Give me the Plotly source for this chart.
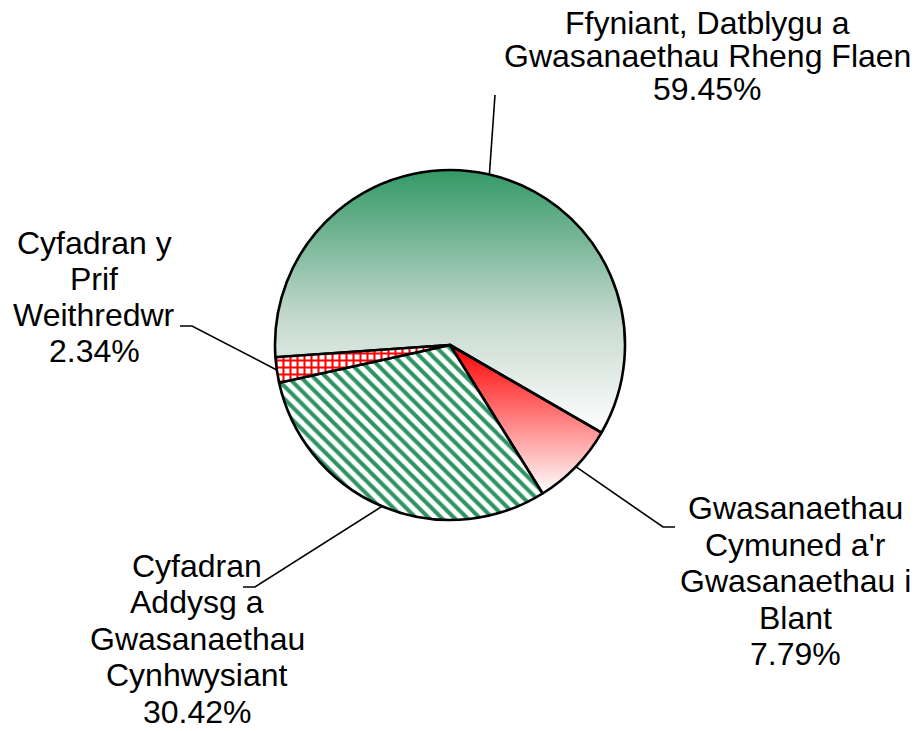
import numpy as np
import plotly.graph_objects as go

W, H = 915, 731

# ---- data ----------------------------------------------------------------
categories = [
    "Ffyniant, Datblygu a Gwasanaethau Rheng Flaen",
    "Gwasanaethau Cymuned a'r Gwasanaethau i Blant",
    "Cyfadran Addysg a Gwasanaethau Cynhwysiant",
    "Cyfadran y Prif Weithredwr",
]
shares = [59.45, 7.79, 30.42, 2.34]
# how each category name wraps in the picture
label_lines = [
    ["Ffyniant, Datblygu a", "Gwasanaethau Rheng Flaen"],
    ["Gwasanaethau", "Cymuned a'r", "Gwasanaethau i", "Blant"],
    ["Cyfadran", "Addysg a", "Gwasanaethau", "Cynhwysiant"],
    ["Cyfadran y", "Prif", "Weithredwr"],
]

# ---- layout (pixels, y down) ---------------------------------------------
CX, CY, R = 450, 345, 175
ROTATION = -94  # first slice starts just below 9 o'clock, clockwise
FONT = dict(family="Liberation Sans, Arial, sans-serif", size=32, color="black")
# (centre x, first line y, line gap) per label
LABEL_POS = [(707, 23, 33), (795, 508, 36.5), (197, 565.5, 36.5), (94, 243, 36)]
# where each leader line runs to after leaving the slice
LEADER_TO = [
    [(495, 95)],
    [(663, 527), (675, 527)],
    [(255, 587), (243, 587)],
    [(192, 326), (180, 326)],
]
GREEN, RED = "#339966", "#ff0000"
# vertical gradients: 0 = bottom of the slice, 1 = top
GRADIENTS = {0: [[0, "#ffffff"], [0.43, "#c6d9cf"], [1, GREEN]],
             1: [[0, "#ffffff"], [1, RED]]}

fig = go.Figure()

# slice angles (deg, clockwise from 12 o'clock), same arithmetic as the pie
total = sum(shares)
bounds = ROTATION + 360 * np.concatenate([[0], np.cumsum(shares)]) / total


def edge(angle_deg, r=R):
    t = np.radians(angle_deg)
    return CX + r * np.sin(t), CY - r * np.cos(t)


# gradient fills sit underneath the (transparent) pie slices
for i, scale in GRADIENTS.items():
    ex, ey = edge(np.linspace(bounds[i], bounds[i + 1], 160))
    fig.add_trace(go.Scatter(
        x=np.concatenate([[CX], ex, [CX]]), y=np.concatenate([[CY], ey, [CY]]),
        mode="lines", fill="toself", line=dict(width=0, color="rgba(0,0,0,0)"),
        fillgradient=dict(type="vertical", colorscale=scale),
        hoverinfo="skip", showlegend=False,
    ))

# leader lines from the middle of each slice's arc
for i, pts in enumerate(LEADER_TO):
    mx, my = edge((bounds[i] + bounds[i + 1]) / 2)
    fig.add_trace(go.Scatter(
        x=[mx] + [p[0] for p in pts], y=[my] + [p[1] for p in pts],
        mode="lines", line=dict(color="black", width=1.6),
        hoverinfo="skip", showlegend=False,
    ))

fig.add_trace(go.Pie(
    labels=categories, values=shares, sort=False, direction="clockwise",
    rotation=ROTATION, textinfo="none", hoverinfo="label+percent",
    domain=dict(x=[(CX - R) / W, (CX + R) / W], y=[1 - (CY + R) / H, 1 - (CY - R) / H]),
    marker=dict(
        colors=["rgba(0,0,0,0)", "rgba(0,0,0,0)", "white", "white"],
        line=dict(color="black", width=2.6),
        pattern=dict(shape=["", "", "\\", "+"],
                     fgcolor=["black", "black", "#2f9463", RED],
                     bgcolor=["rgba(0,0,0,0)", "rgba(0,0,0,0)", "white", "white"],
                     size=[8, 8, 9, 7], solidity=[0.3, 0.3, 0.45, 0.5]),
    ),
    showlegend=False,
))

annotations = []
for (x0, y0, gap), lines, v in zip(LABEL_POS, label_lines, shares):
    for k, txt in enumerate(lines + [f"{v:.2f}%"]):
        annotations.append(dict(
            x=x0, y=y0 + k * gap, xref="x", yref="y", text=txt, showarrow=False,
            xanchor="center", yanchor="middle", font=FONT,
        ))

fig.update_layout(
    width=W, height=H, margin=dict(l=0, r=0, t=0, b=0),
    paper_bgcolor="white", plot_bgcolor="white",
    xaxis=dict(range=[0, W], visible=False, fixedrange=True),
    yaxis=dict(range=[H, 0], visible=False, fixedrange=True),
    annotations=annotations, showlegend=False,
)

# the page's default 8px body margin would push the chart off the window
fig.write_html(
    "out.html",
    config={"displayModeBar": False},
    post_script="document.body.style.margin = '0';",
)
